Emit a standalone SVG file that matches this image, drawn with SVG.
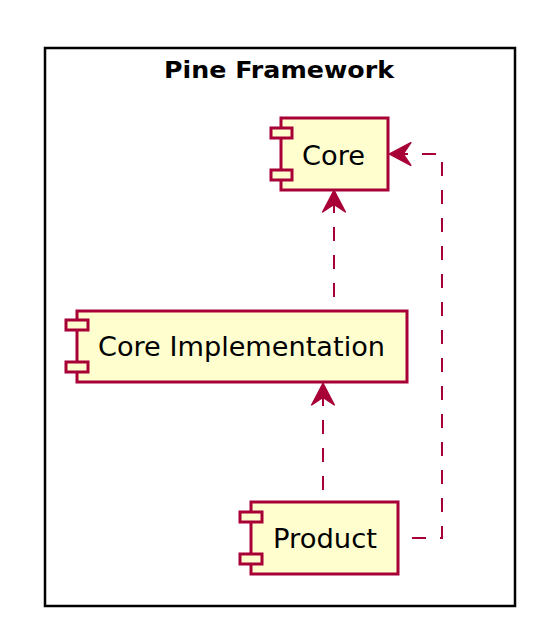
<svg xmlns="http://www.w3.org/2000/svg" width="534" height="626" viewBox="0 0 534 626">
<style>
.frame{fill:none;stroke:#000;stroke-width:2.5}
.title{font-family:"DejaVu Sans",sans-serif;font-weight:bold;font-size:23px;fill:#000}
.box{fill:#FEFECE;stroke:#A80036;stroke-width:3}
.lbl{font-family:"DejaVu Sans",sans-serif;font-size:26px;fill:#000}
.dep{fill:none;stroke:#A80036;stroke-width:2;stroke-dasharray:14,14}
</style>
<defs>
<marker id="arr" markerUnits="userSpaceOnUse" orient="auto" refX="0" refY="0" markerWidth="30" markerHeight="30" viewBox="-25 -13 27 26" overflow="visible">
<path d="M0,0 L-20,-10.5 L-13,0 L-20,10.5 Z" fill="#A80036" stroke="#A80036" stroke-width="1"/>
</marker>
</defs>
<g id="pine-framework">
<rect class="frame" x="45" y="48" width="470" height="558"/>
<text class="title" x="279" y="78" text-anchor="middle" textLength="230" lengthAdjust="spacingAndGlyphs">Pine Framework</text>
</g>
<g id="core">
<rect class="box" x="281" y="118" width="107" height="72"/>
<rect class="box" x="271" y="128" width="21" height="10"/>
<rect class="box" x="271" y="170" width="21" height="10"/>
<text class="lbl" x="302" y="165" textLength="63" lengthAdjust="spacingAndGlyphs">Core</text>
</g>
<g id="core-implementation">
<rect class="box" x="77" y="311" width="330" height="71"/>
<rect class="box" x="66" y="320" width="22" height="10"/>
<rect class="box" x="66" y="362" width="22" height="10"/>
<text class="lbl" x="98" y="356" textLength="287" lengthAdjust="spacingAndGlyphs">Core Implementation</text>
</g>
<g id="product">
<rect class="box" x="251" y="502" width="147" height="72"/>
<rect class="box" x="240" y="512" width="22" height="10"/>
<rect class="box" x="240" y="554" width="22" height="10"/>
<text class="lbl" x="273" y="548" textLength="104" lengthAdjust="spacingAndGlyphs">Product</text>
</g>
<g id="connectors">
<path class="dep" d="M334,297 L334,190" marker-end="url(#arr)"/>
<path class="dep" d="M323,490 L323,383" marker-end="url(#arr)"/>
<path class="dep" d="M412,538 L442,538 L442,154 L389,154" marker-end="url(#arr)"/>
</g>
</svg>
